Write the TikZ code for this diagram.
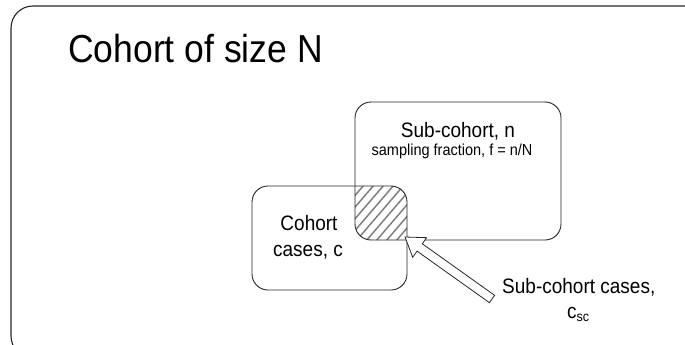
\documentclass[tikz,border=0pt]{standalone}
\usepackage{fontspec}
\setmainfont{Liberation Sans}
\usetikzlibrary{calc}
% slightly tall lettering
\newcommand{\tallish}[1]{\scalebox{1}[1.1]{#1}}
\begin{document}
\begin{tikzpicture}[x=1pt,y=-1pt,
  frame/.style={draw=black!85, line width=1.1pt, rounded corners=22pt},
  box/.style={draw=black!85, line width=0.9pt, rounded corners=16pt},
  lbl/.style={inner sep=0pt, text=black},
  big/.style={lbl, font=\fontsize{35.5}{40}\selectfont},
  mid/.style={lbl, font=\fontsize{19}{23}\selectfont},
  small/.style={lbl, font=\fontsize{14.5}{17}\selectfont},
  hatch/.style={draw=black!50, line width=1.5pt},
  blockarrow/.style={draw=black!85, fill=white, line width=0.8pt, line join=miter}]
\useasboundingbox (0,0) rectangle (685,345);

% outer cohort frame, running off the right and bottom edges
\draw[frame] (11,6) rectangle (720,358);

% hatched overlap of the two groups
\begin{scope}
  \clip[rounded corners=16pt] (252,186) rectangle (407,290);
  \clip[rounded corners=16pt] (355,102) rectangle (561,240);
  \foreach \k in {-100,-90,...,100}
    \draw[hatch] (380+\k-60,213+70) -- (380+\k+60,213-70);
\end{scope}

% the two groups
\draw[box] (355,102) rectangle (561,240);
\draw[box] (252,186) rectangle (407,290);

% labels
\node[big, anchor=base west] (title) at (68,63) {\tallish{Cohort of size N}};
\node[mid, anchor=base] (subt) at (458,137) {\tallish{Sub-cohort, n}};
\node[small, anchor=base] (subf) at (452,155) {\tallish{sampling fraction, f = n/N}};
\node[mid, anchor=base] (ct1) at (309,230) {\tallish{Cohort}};
\node[mid, anchor=base] (ct2) at (308,256) {\tallish{cases, c}};
\node[mid, anchor=base west] (sc1) at (502,293) {\tallish{Sub-cohort cases,}};
\node[mid, anchor=base west] (sc2) at (567,318) {\tallish{c\raisebox{-3.5pt}{\fontsize{12.5}{13}\selectfont sc}}};

% hollow block arrow pointing into the overlap
\coordinate (tip) at (405,237);
\coordinate (tail) at (492,299);
\coordinate (neck) at ($(tip)!18pt!(tail)$);
\draw[blockarrow] (tip)
  -- ($(neck)!12pt!90:(tail)$)
  -- ($(neck)!4.5pt!90:(tail)$)
  -- ($(tail)!4.5pt!-90:(neck)$)
  -- ($(tail)!4.5pt!90:(neck)$)
  -- ($(neck)!4.5pt!-90:(tail)$)
  -- ($(neck)!12pt!-90:(tail)$)
  -- cycle;
\end{tikzpicture}
\end{document}
